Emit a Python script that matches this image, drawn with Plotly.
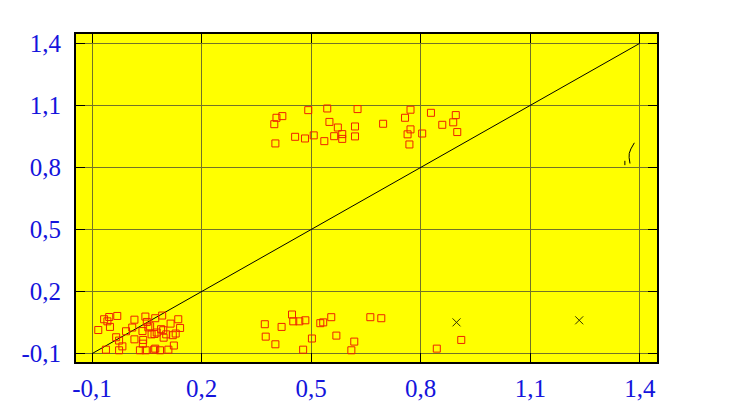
import plotly.graph_objects as go

# ---- data ----
top_x = [0.405, 0.421, 0.399, 0.492, 0.544, 0.627, 0.550, 0.573, 0.620, 0.456,
         0.483, 0.507, 0.536, 0.563, 0.585, 0.585, 0.620, 0.402, 0.772, 0.757,
         0.828, 0.896, 0.697, 0.772, 0.764, 0.804, 0.859, 0.889, 0.900, 0.769]
top_y = [1.040, 1.048, 1.009, 1.077, 1.085, 1.082, 1.020, 0.993, 0.998, 0.948,
         0.940, 0.955, 0.927, 0.951, 0.961, 0.938, 0.950, 0.916, 1.079, 1.040,
         1.064, 1.053, 1.011, 0.984, 0.960, 0.964, 1.006, 1.018, 0.971, 0.911]

mid_x = [0.4475, 0.451, 0.4675, 0.484, 0.373, 0.419, 0.525, 0.533, 0.555, 0.3755,
         0.502, 0.569, 0.402, 0.478, 0.618, 0.610, 0.662, 0.692, 0.844, 0.911]
mid_y = [0.089, 0.056, 0.056, 0.061, 0.042, 0.029, 0.047, 0.051, 0.076, -0.018,
         -0.027, -0.013, -0.055, -0.081, -0.042, -0.084, 0.076, 0.071, -0.076, -0.034]

low_x = [-0.083, -0.067, -0.058, -0.051, -0.053, -0.031, -0.034, -0.026, -0.017, -0.007,
         -0.062, -0.026, 0.010, 0.016, 0.016, 0.031, 0.038, 0.040, 0.039, 0.046,
         0.047, 0.050, 0.054, 0.059, 0.063, 0.070, 0.073, 0.073, 0.071, 0.077,
         0.086, 0.092, 0.089, 0.095, 0.096, 0.103, 0.109, 0.115, 0.121, 0.124,
         0.129, 0.136, 0.141]
low_y = [0.014, 0.066, 0.056, 0.029, 0.077, 0.082, -0.021, -0.037, -0.065, 0.008,
         -0.081, -0.084, 0.026, 0.064, -0.031, -0.084, 0.009, -0.034, -0.052, 0.079,
         -0.084, 0.053, 0.027, 0.032, -0.007, -0.081, -0.076, 0.071, -0.005, 0.002,
         -0.084, 0.084, 0.018, 0.013, -0.023, -0.007, -0.081, 0.045, -0.011, -0.061,
         -0.003, 0.066, 0.024]

cross_x = [0.898, 1.234]
cross_y = [0.051, 0.061]

diag_x = [-0.1, 1.4]
diag_y = [-0.1, 1.4]

ticks = [-0.1, 0.2, 0.5, 0.8, 1.1, 1.4]
tick_labels = ["-0,1", "0,2", "0,5", "0,8", "1,1", "1,4"]

# stray glyph near the right edge
glyph_x = [1.385, 1.371, 1.373]
glyph_y = [0.919, 0.868, 0.819]
tick_x = [1.359, 1.359]
tick_y = [0.832, 0.811]

sq_x = top_x + mid_x + low_x
sq_y = top_y + mid_y + low_y

fig = go.Figure()
fig.add_trace(go.Scatter(x=diag_x, y=diag_y, mode="lines",
                         line=dict(color="black", width=1), hoverinfo="skip"))
fig.add_trace(go.Scatter(x=sq_x, y=sq_y, mode="markers",
                         marker=dict(symbol="square-open", size=7,
                                     color="#EE2200", line=dict(width=1))))
fig.add_trace(go.Scatter(x=cross_x, y=cross_y, mode="markers",
                         marker=dict(symbol="x-thin-open", size=8,
                                     color="#333300", line=dict(width=1, color="#333300"))))
fig.add_trace(go.Scatter(x=glyph_x, y=glyph_y, mode="lines", line_shape="spline",
                         line=dict(color="black", width=1), hoverinfo="skip"))
fig.add_trace(go.Scatter(x=tick_x, y=tick_y, mode="lines",
                         line=dict(color="black", width=1), hoverinfo="skip"))

axis_common = dict(
    tickvals=ticks, ticktext=tick_labels,
    showgrid=True, gridcolor="rgb(115,115,40)", gridwidth=1,
    zeroline=False,
    showline=True, linecolor="black", linewidth=2, mirror="allticks",
    ticks="inside", ticklen=9, tickcolor="black", tickwidth=1,
    tickfont=dict(family="Liberation Serif", size=25, color="#1414dc"),
)

fig.update_xaxes(range=[-0.144, 1.447], ticklabelstandoff=3, **axis_common)
fig.update_yaxes(range=[-0.1406, 1.445], ticklabelstandoff=8, **axis_common)

fig.update_layout(
    width=738, height=416,
    margin=dict(l=68, r=89, t=26, b=62),
    plot_bgcolor="#FFFF00", paper_bgcolor="white",
    showlegend=False,
)

fig.write_html("out.html")
